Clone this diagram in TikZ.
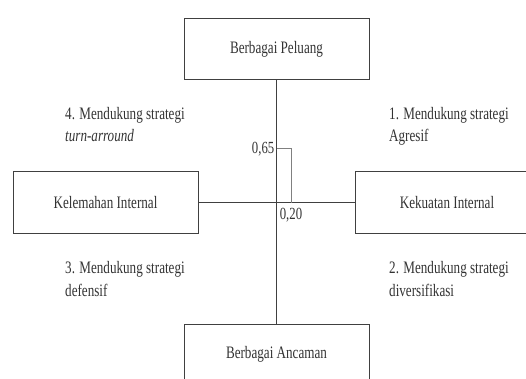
\documentclass[tikz,border=0pt]{standalone}
\usepackage{fontspec}
\setmainfont[FakeStretch=0.75]{Liberation Serif}
\definecolor{garis}{HTML}{404040}
\definecolor{teks}{HTML}{333333}
\tikzset{
  kotak/.style={draw=garis, line width=1pt, minimum width=185pt, minimum height=61pt,
    inner sep=0pt, text=teks, font=\fontsize{17.5}{22}\selectfont},
  label/.style={anchor=base west, align=left, inner sep=0pt, text=teks,
    font=\fontsize{17.5}{22.5}\selectfont},
  angka/.style={inner sep=0pt, text=teks, font=\fontsize{17}{20}\selectfont}
}
\begin{document}
\begin{tikzpicture}[x=1pt, y=-1pt]
    \useasboundingbox (0,0) rectangle (526,379);
    \clip (0,0) rectangle (526,379);

    % kotak faktor
    \node[kotak] (peluang) at (276.5, 49.5) {Berbagai Peluang};
    \node[kotak] (ancaman) at (276.5, 354.5) {Berbagai Ancaman};
    \node[kotak] (kelemahan) at (105.5, 202.5) {Kelemahan Internal};
    \node[kotak, minimum width=184pt] (kekuatan) at (447, 202.5) {Kekuatan Internal};

    % sumbu
    \draw[garis, line width=1pt] (peluang) -- (ancaman);
    \draw[garis, line width=1pt] (kelemahan) -- (kekuatan);

    % titik posisi 0,20 ; 0,65
    \def\sx{291}
    \def\sy{149}
    \coordinate (p65) at (276.5, \sy);
    \coordinate (p20) at (\sx, 202.5);
    \draw[gray, line width=1pt] (p65) -| (p20);
    \node[angka, anchor=east, xshift=-2pt] (n65) at (p65) {0,65};
    \node[angka, anchor=north, yshift=-5pt] (n20) at (p20) {0,20};

    % kuadran strategi (base = baris kedua)
    \node[label] (k1) at (389, 142) {1. Mendukung strategi\\Agresif};
    \node[label] (k4) at (65, 142) {4. Mendukung strategi\\\textit{turn-arround}};
    \node[label] (k3) at (65, 296) {3. Mendukung strategi\\defensif};
    \node[label] (k2) at (389, 296) {2. Mendukung strategi\\diversifikasi};
\end{tikzpicture}
\end{document}
